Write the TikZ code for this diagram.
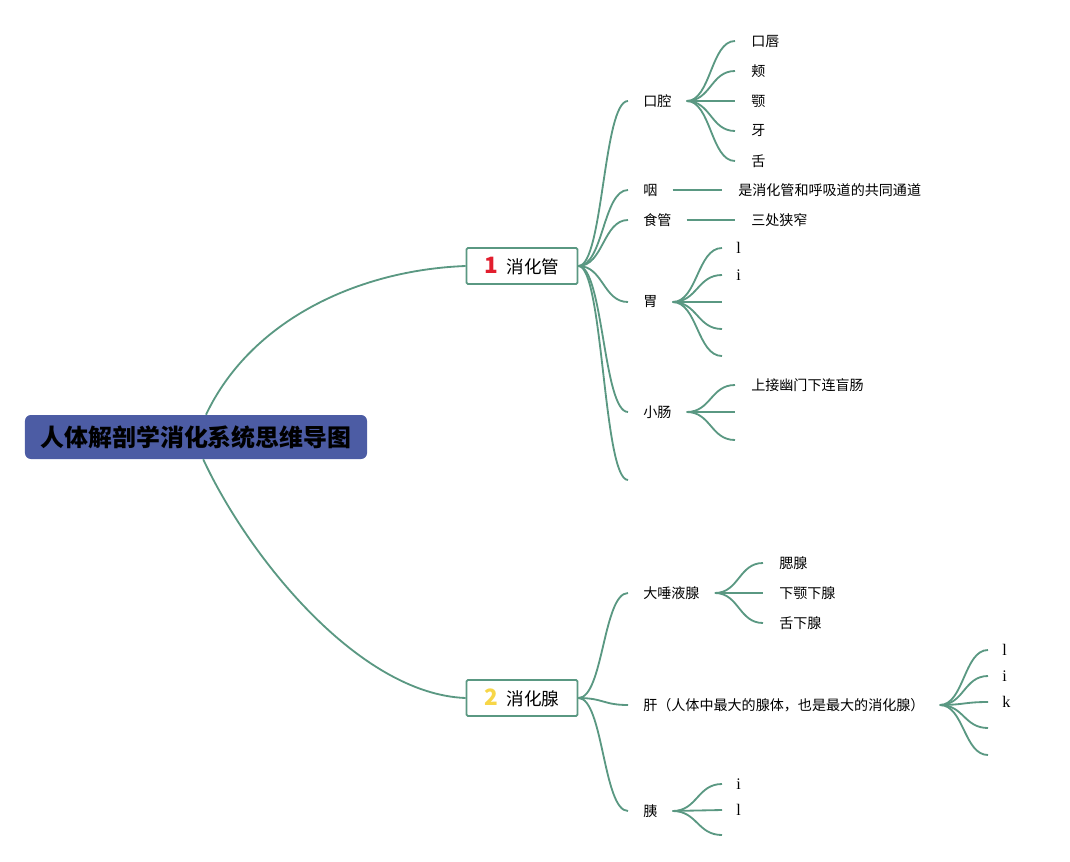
\documentclass[tikz,border=0pt]{standalone}
\usepackage{fontspec}
\setmainfont{Noto Sans CJK SC}
\newfontfamily\latinserif{Liberation Serif}
\usetikzlibrary{calc}

\definecolor{branchgreen}{RGB}{90,152,130}
\definecolor{rootblue}{RGB}{76,92,164}
\definecolor{numred}{RGB}{226,30,46}
\definecolor{numyellow}{RGB}{247,214,72}

\tikzset{
  branch/.style={draw=branchgreen, line width=1.3pt,
    to path={let \p1=(\tikztostart), \p2=(\tikztotarget) in
      .. controls ({(\x1+\x2)/2},\y1) and ({(\x1+\x2)/2},\y2) .. (\tikztotarget)}},
  rootnode/.style={fill=rootblue, rounded corners=0.15cm, minimum width=8.55cm,
    minimum height=1.1cm, font=\fontsize{17}{20}\selectfont\bfseries},
  mainnode/.style={draw=branchgreen, line width=1.3pt, fill=white, rounded corners=1pt,
    minimum width=2.775cm, minimum height=0.9cm, font=\fontsize{12.5}{15}\selectfont},
  topic/.style={anchor=west, inner xsep=0.375cm, inner ysep=0pt, font=\fontsize{10}{12}\selectfont},
  leaf/.style={topic, inner xsep=0.4cm},
  letter/.style={leaf, inner xsep=0.35cm, font=\latinserif\fontsize{11.5}{13}\selectfont},
}

\begin{document}
\begin{tikzpicture}[x=0.025cm, y=-0.025cm]
  \useasboundingbox (0,0) rectangle (1070,861);

  \node[rootnode] (root) at (196,437) {人体解剖学消化系统思维导图};

  \node[mainnode] (tube) at (522,266) {{\fontsize{16}{16}\selectfont\bfseries\color{numred}1}\hspace{6pt}消化管};
  \node[mainnode] (gland) at (522,698) {{\fontsize{16}{16}\selectfont\bfseries\color{numyellow}2}\hspace{6pt}消化腺};

  \draw[branchgreen, line width=1.3pt] ([xshift=0.25cm]root.north) .. controls +(45,-95) and +(-107,4) .. (tube.west);
  \draw[branchgreen, line width=1.3pt] ([xshift=0.18cm]root.south) .. controls +(45,97) and +(-107,-4) .. (gland.west);

  \node[topic] (mouth) at (628,101) {口腔};
  \node[topic] (pharynx) at (628,190) {咽};
  \node[topic] (esoph) at (628,220) {食管};
  \node[topic] (stomach) at (628,302) {胃};
  \node[topic] (intestine) at (628,412) {小肠};
  \coordinate (tubeend) at (628,480);

  \node[leaf] (lip) at (735,41) {口唇};
  \node[leaf] (cheek) at (735,71) {颊};
  \node[leaf] (palate) at (735,101) {颚};
  \node[leaf] (tooth) at (735,131) {牙};
  \node[leaf] (tongue) at (735,161) {舌};

  \node[leaf] (pharynxnote) at (722,190) {是消化管和呼吸道的共同通道};
  \node[leaf] (esophnote) at (735,220) {三处狭窄};

  \node[letter] (stomachl) at (722,248) {l};
  \node[letter] (stomachi) at (722,275) {i};
  \coordinate (stomachc) at (722,302);
  \coordinate (stomachd) at (722,329);
  \coordinate (stomache) at (722,356);

  \node[leaf] (intestinenote) at (735,385) {上接幽门下连盲肠};
  \coordinate (intestineb) at (735,412);
  \coordinate (intestinec) at (735,440);

  \node[topic] (saliva) at (628,593) {大唾液腺};
  \node[topic] (liver) at (628,705) {肝（人体中最大的腺体，也是最大的消化腺）};
  \node[topic] (pancreas) at (628,811) {胰};

  \node[leaf] (parotid) at (763,563) {腮腺};
  \node[leaf] (submand) at (763,593) {下颚下腺};
  \node[leaf] (subling) at (763,623) {舌下腺};

  \node[letter] (liverl) at (988,650) {l};
  \node[letter] (liveri) at (988,676) {i};
  \node[letter] (liverk) at (988,702) {k};
  \coordinate (liverd) at (988,728);
  \coordinate (livere) at (988,755);

  \node[letter] (pancreasi) at (722,784) {i};
  \node[letter] (pancreasl) at (722,810) {l};
  \coordinate (pancreasc) at (722,835);

  \draw[branch] (tube.east) to (mouth.west);
  \draw[branch] (tube.east) to (pharynx.west);
  \draw[branch] (tube.east) to (esoph.west);
  \draw[branch] (tube.east) to (stomach.west);
  \draw[branch] (tube.east) to (intestine.west);
  \draw[branch] (tube.east) to (tubeend);

  \draw[branch] (mouth.east) to (lip.west);
  \draw[branch] (mouth.east) to (cheek.west);
  \draw[branch] (mouth.east) to (palate.west);
  \draw[branch] (mouth.east) to (tooth.west);
  \draw[branch] (mouth.east) to (tongue.west);

  \draw[branch] (pharynx.east) to (pharynxnote.west);
  \draw[branch] (esoph.east) to (esophnote.west);

  \draw[branch] (stomach.east) to (stomachl.west);
  \draw[branch] (stomach.east) to (stomachi.west);
  \draw[branch] (stomach.east) to (stomachc);
  \draw[branch] (stomach.east) to (stomachd);
  \draw[branch] (stomach.east) to (stomache);

  \draw[branch] (intestine.east) to (intestinenote.west);
  \draw[branch] (intestine.east) to (intestineb);
  \draw[branch] (intestine.east) to (intestinec);

  \draw[branch] (gland.east) to (saliva.west);
  \draw[branch] (gland.east) to (liver.west);
  \draw[branch] (gland.east) to (pancreas.west);

  \draw[branch] (saliva.east) to (parotid.west);
  \draw[branch] (saliva.east) to (submand.west);
  \draw[branch] (saliva.east) to (subling.west);

  \draw[branch] (liver.east) to (liverl.west);
  \draw[branch] (liver.east) to (liveri.west);
  \draw[branch] (liver.east) to (liverk.west);
  \draw[branch] (liver.east) to (liverd);
  \draw[branch] (liver.east) to (livere);

  \draw[branch] (pancreas.east) to (pancreasi.west);
  \draw[branch] (pancreas.east) to (pancreasl.west);
  \draw[branch] (pancreas.east) to (pancreasc);
\end{tikzpicture}
\end{document}
